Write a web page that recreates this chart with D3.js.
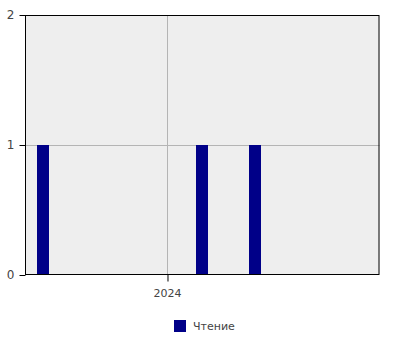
<!DOCTYPE html>
<html>
<head>
<meta charset="utf-8">
<script src="https://cdn.jsdelivr.net/npm/d3@7"></script>
<style>
  body { margin: 0; background: #fff; }
  text { font-family: Tahoma, "DejaVu Sans", sans-serif; font-size: 11px; fill: #444; }
</style>
</head>
<body>
<svg id="chart" width="400" height="350"></svg>
<script>
// data
var dates = ['2023-08-20', '2024-02-08', '2024-04-05']
var values = [1, 1, 1]
var xDomain = ['2023-08-01', '2024-08-17']
var yTicks = [0, 1, 2]
var seriesName = 'Чтение'

var parse = d3.timeParse('%Y-%m-%d')
var margin = { left: 25, top: 15, right: 20.5, bottom: 75 }
var width = 400, height = 350

var svg = d3.select('#chart')

var x = d3.scaleTime()
  .domain(xDomain.map(parse))
  .range([margin.left, width - margin.right])

var y = d3.scaleLinear()
  .domain([0, 2])
  .range([height - margin.bottom, margin.top])

// plot background
svg.append('rect')
  .attr('x', margin.left)
  .attr('y', margin.top)
  .attr('width', width - margin.left - margin.right)
  .attr('height', height - margin.top - margin.bottom)
  .attr('fill', '#eeeeee')

var xTicks = x.ticks(d3.timeYear)

// grid
svg.append('g')
  .selectAll('line')
  .data(yTicks.slice(1, -1))
  .enter()
  .append('line')
  .attr('x1', margin.left)
  .attr('x2', width - margin.right)
  .attr('y1', function(d) { return Math.round(y(d)) + 0.5 })
  .attr('y2', function(d) { return Math.round(y(d)) + 0.5 })
  .attr('stroke', '#b4b4b4')

svg.append('g')
  .selectAll('line')
  .data(xTicks)
  .enter()
  .append('line')
  .attr('x1', function(d) { return Math.round(x(d)) + 0.5 })
  .attr('x2', function(d) { return Math.round(x(d)) + 0.5 })
  .attr('y1', margin.top)
  .attr('y2', height - margin.bottom)
  .attr('stroke', '#b4b4b4')

// bars
var barW = 12
svg.append('g')
  .selectAll('rect')
  .data(dates)
  .enter()
  .append('rect')
  .attr('x', function(d) { return Math.round(x(parse(d)) - barW / 2) })
  .attr('y', function(d, i) { return y(values[i]) })
  .attr('width', barW)
  .attr('height', function(d, i) { return y(0) - y(values[i]) })
  .attr('fill', '#000088')

// frame
svg.append('rect')
  .attr('x', margin.left + 0.5)
  .attr('y', margin.top + 0.5)
  .attr('width', width - margin.left - margin.right - 1)
  .attr('height', height - margin.top - margin.bottom - 1)
  .attr('fill', 'none')
  .attr('stroke', '#000')

// axes
var yAxis = d3.axisLeft(y).tickValues(yTicks).tickSize(6).tickPadding(5).tickFormat(d3.format('d'))
var gy = svg.append('g')
  .attr('transform', 'translate(' + (margin.left + 0.5) + ',0)')
  .call(yAxis)
gy.select('.domain').remove()
gy.selectAll('text').style('font-size', '12px')

var xAxis = d3.axisBottom(x).ticks(d3.timeYear).tickSize(7).tickPadding(8).tickFormat(d3.timeFormat('%Y'))
var gx = svg.append('g')
  .attr('transform', 'translate(0,' + (height - margin.bottom - 0.5) + ')')
  .call(xAxis)
gx.select('.domain').remove()
gx.selectAll('line').attr('transform', 'translate(0.5,0)')

// legend
var legend = svg.append('g').attr('transform', 'translate(174,320)')
legend.append('rect').attr('width', 12).attr('height', 12).attr('fill', '#000088')
legend.append('text').attr('x', 19).attr('y', 6).attr('dy', '0.35em').text(seriesName)
</script>
</body>
</html>
